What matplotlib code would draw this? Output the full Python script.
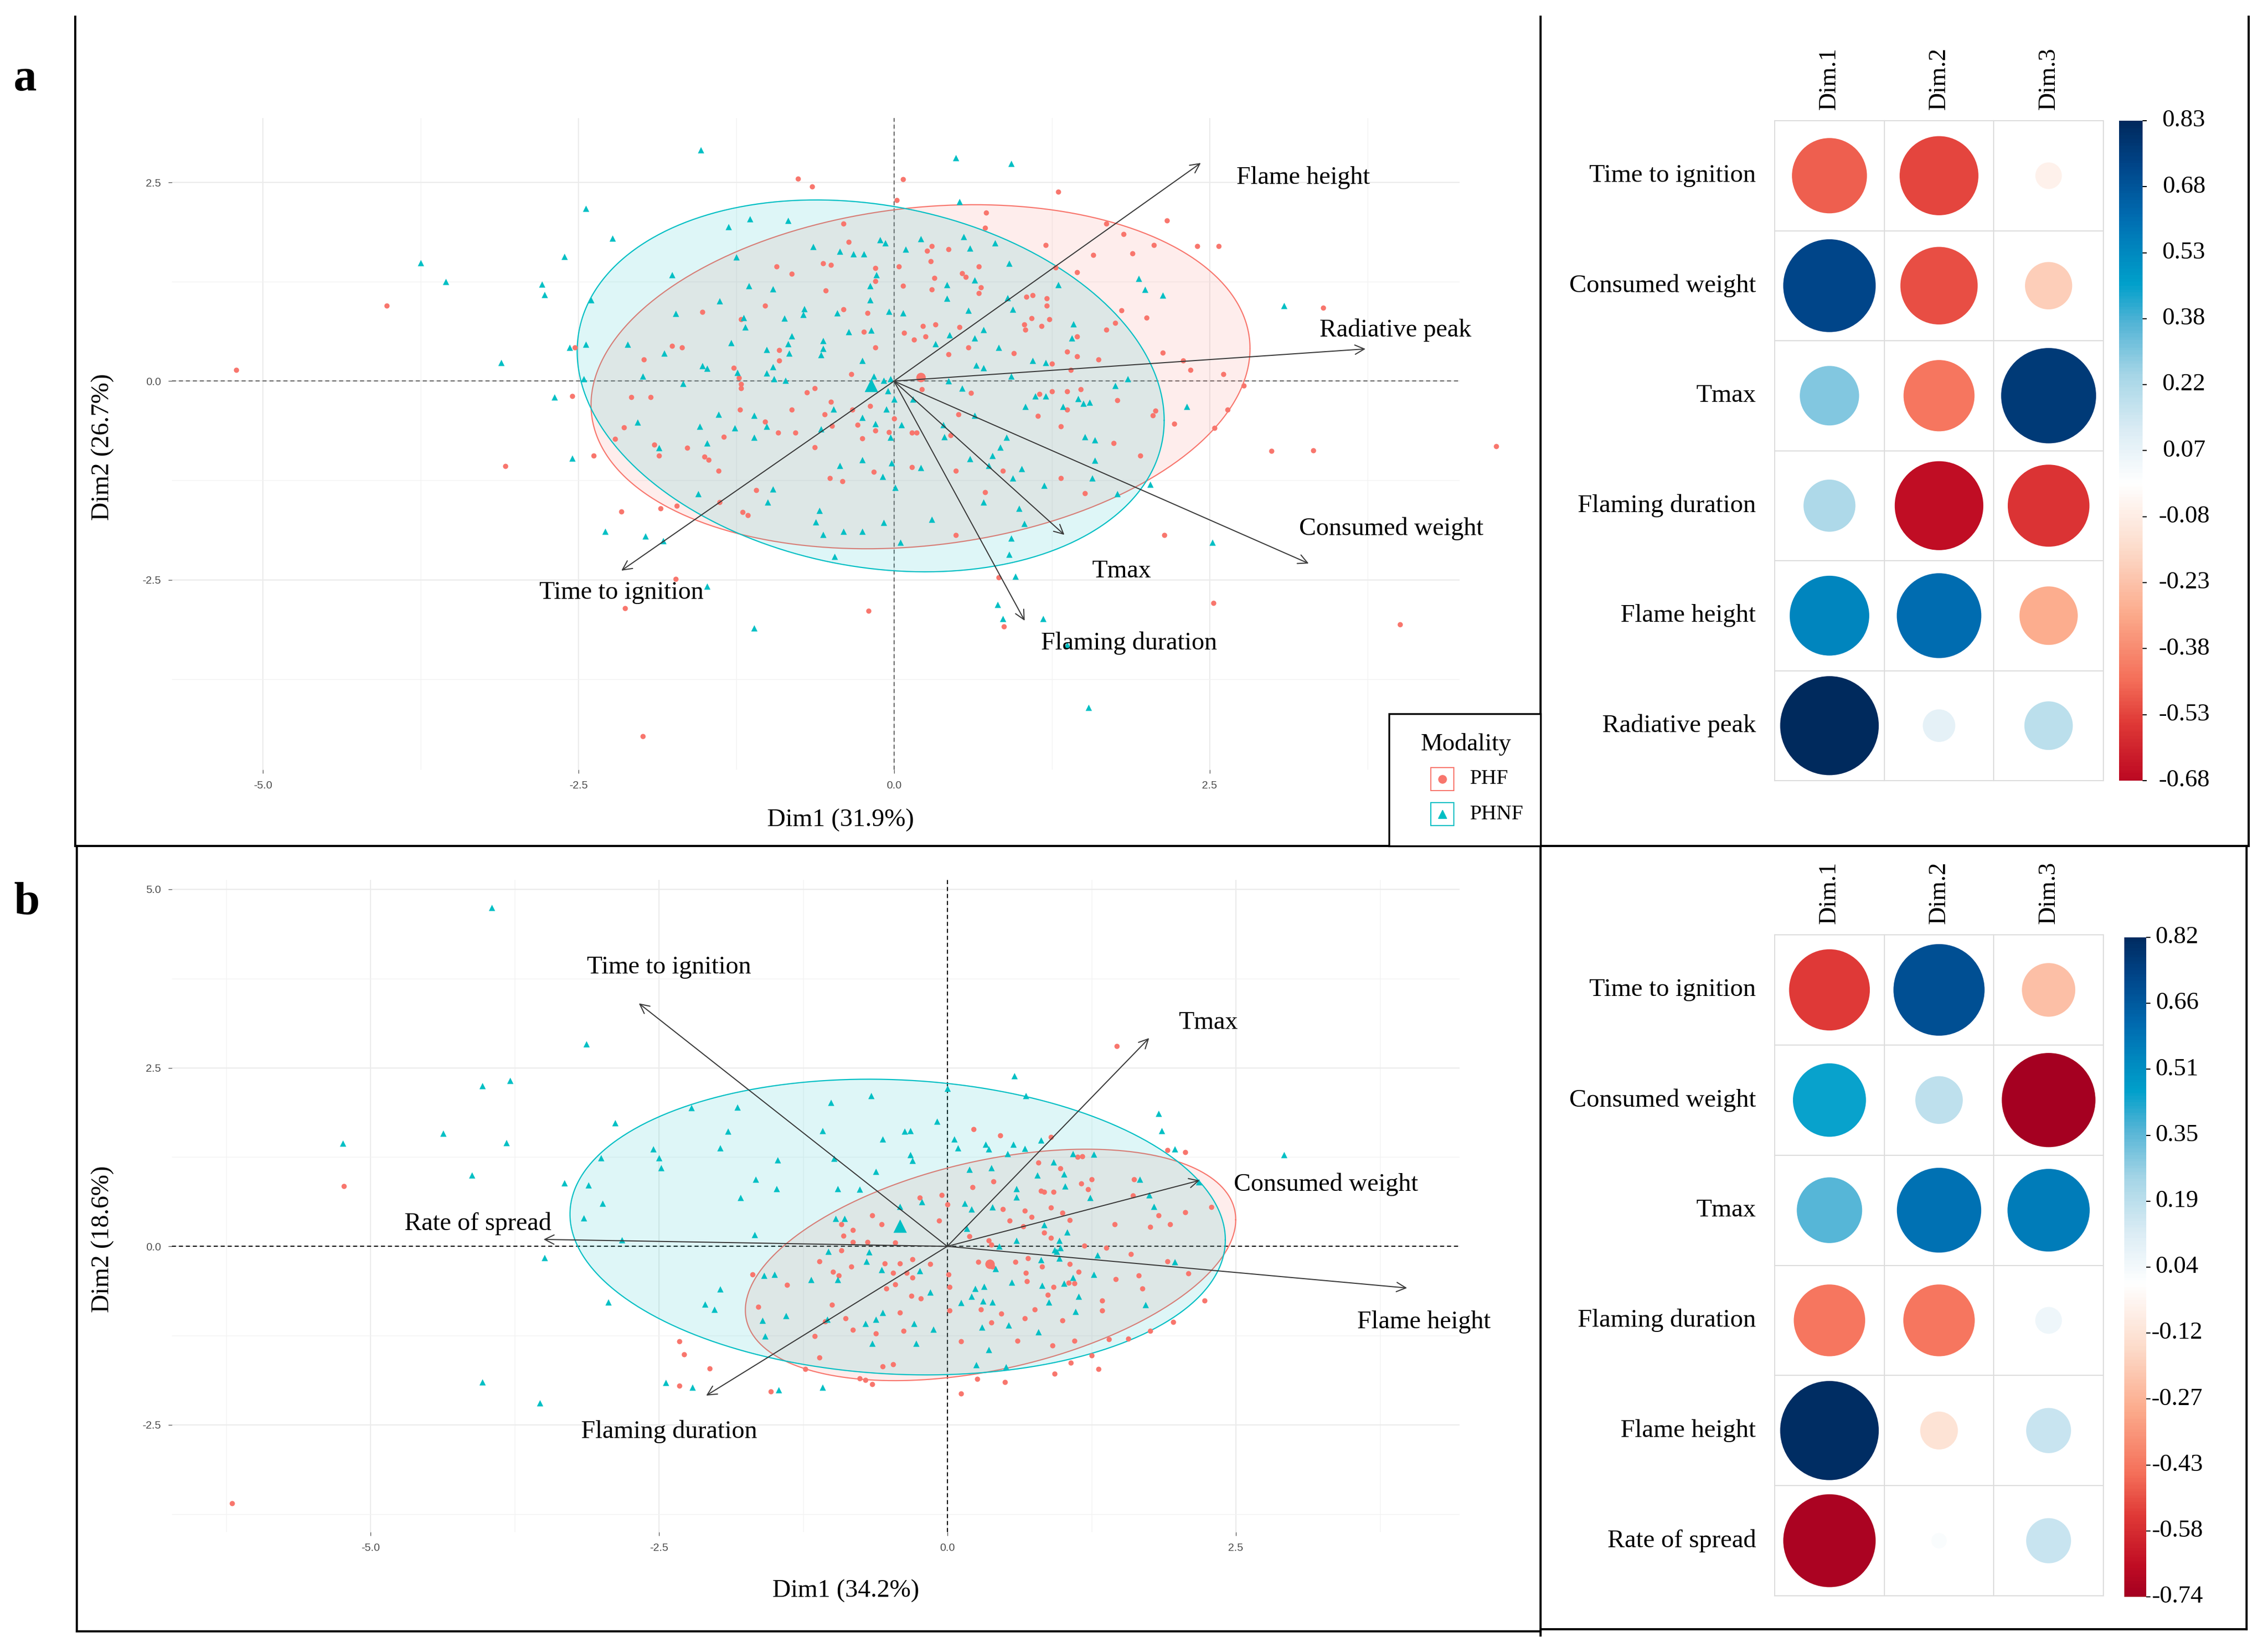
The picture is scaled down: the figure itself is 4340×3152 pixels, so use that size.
import numpy as np
import matplotlib
matplotlib.use("Agg")
import matplotlib.pyplot as plt
from matplotlib.colors import LinearSegmentedColormap
from matplotlib.lines import Line2D
from matplotlib.patches import Circle, Rectangle
from matplotlib.transforms import blended_transform_factory

plt.rcParams['font.family'] = ['Liberation Serif', 'DejaVu Serif']

# ---------------- data ----------------
dims = ["Dim.1", "Dim.2", "Dim.3"]

vars_a = ["Time to ignition", "Consumed weight", "Tmax",
          "Flaming duration", "Flame height", "Radiative peak"]
load_a = np.array([[-0.48, -0.53, -0.06],
                   [0.73, -0.51, -0.19],
                   [0.30, -0.43, 0.77],
                   [0.23, -0.67, -0.57],
                   [0.54, 0.61, -0.29],
                   [0.83, 0.09, 0.20]])
cbar_a = ["0.83", "0.68", "0.53", "0.38", "0.22", "0.07",
          "-0.08", "-0.23", "-0.38", "-0.53", "-0.68"]
pct_a = (31.9, 26.7)

vars_b = ["Time to ignition", "Consumed weight", "Tmax",
          "Flaming duration", "Flame height", "Rate of spread"]
load_b = np.array([[-0.55, 0.70, -0.24],
                   [0.45, 0.19, -0.74],
                   [0.36, 0.60, 0.57],
                   [-0.43, -0.43, 0.06],
                   [0.82, -0.12, 0.17],
                   [-0.72, 0.02, 0.17]])
cbar_b = ["0.82", "0.66", "0.51", "0.35", "0.19", "0.04",
          "-0.12", "-0.27", "-0.43", "-0.58", "-0.74"]
pct_b = (34.2, 18.6)

groups = ["PHF", "PHNF"]

# individuals, panel a
a_phf = np.array([
    (-5.21, 0.14), (-4.02, 0.95), (-3.08, -1.07), (-2.55, -0.19), (-2.53, 0.42), (-2.38, -0.94),
    (-2.16, -1.64), (-2.13, -2.86), (-1.99, -4.47), (-1.85, -1.60), (-1.72, -1.57), (-1.73, -2.49),
    (-0.20, -2.89), (-0.76, 2.55), (-0.65, 2.45), (-0.40, 1.98), (-0.36, 1.75), (-0.56, 1.48),
    (-0.50, 1.46), (-0.93, 1.44), (-0.81, 1.35), (-0.54, 1.14), (-0.40, 0.90), (-0.15, 1.42),
    (-0.15, 1.26), (-0.21, 0.86), (-0.24, 0.62), (-0.15, 0.42), (-1.02, 0.95), (-1.52, 0.87),
    (-1.21, 0.78), (-0.91, 0.39), (-0.91, 0.26), (-1.76, 0.44), (-1.68, 0.42), (-1.98, 0.27),
    (-2.08, -0.20), (-1.93, -0.20), (-1.27, 0.17), (-1.23, 0.04), (-1.21, -0.04), (-1.21, -0.09),
    (-0.34, 0.09), (-0.63, -0.09), (-0.69, -0.14), (-0.50, -0.26), (-0.55, -0.42), (-0.33, -0.36),
    (-0.49, -0.56), (-0.29, -0.55), (-0.19, -0.31), (-1.22, -0.36), (-0.81, -0.36), (-1.02, -0.51),
    (-0.92, -0.65), (-0.78, -0.65), (-0.63, -0.83), (-1.35, -0.70), (-2.14, -0.58), (-2.21, -0.73),
    (-1.90, -0.80), (-1.86, -0.94), (-1.64, -0.84), (-1.50, -0.95), (-1.47, -0.99), (-1.39, -1.13),
    (-1.38, -1.52), (-1.09, -1.37), (-1.20, -1.65), (-1.16, -1.69), (-0.25, -0.72), (-0.15, -0.62),
    (-0.51, -1.22), (-0.41, -1.26), (-0.16, -1.14), (-0.04, -0.64),
    (0.07, 2.54), (0.02, 2.28), (1.30, 2.38), (0.73, 2.12), (0.72, 1.93), (1.68, 1.98),
    (2.16, 2.02), (1.82, 1.85), (2.40, 1.70), (2.57, 1.70), (2.06, 1.71), (1.89, 1.61),
    (1.58, 1.59), (1.20, 1.71), (0.30, 1.70), (0.26, 1.64), (0.43, 1.66), (0.29, 1.51),
    (0.04, 1.44), (0.67, 1.44), (0.54, 1.36), (0.57, 1.31), (0.32, 1.30), (1.28, 1.43),
    (1.45, 1.37), (0.07, 1.20), (0.30, 1.15), (0.69, 1.18), (0.67, 1.11), (1.05, 1.06),
    (1.10, 1.08), (1.21, 1.04), (1.21, 0.95), (1.80, 0.89), (2.00, 0.80), (3.40, 0.92),
    (1.09, 0.79), (1.23, 0.78), (1.03, 0.71), (1.04, 0.65), (1.17, 0.69), (1.68, 0.65),
    (1.75, 0.73), (1.45, 0.56), (0.23, 0.69), (0.33, 0.71), (0.16, 0.52), (0.25, 0.56),
    (0.08, 0.61), (0.52, 0.68), (0.59, 0.42), (0.43, 0.34), (0.95, 0.35), (1.37, 0.37),
    (1.45, 0.31), (1.62, 0.27), (2.13, 0.36), (2.29, 0.26), (2.35, 0.14), (2.61, 0.09),
    (2.77, -0.06), (1.40, 0.14), (1.25, 0.22), (0.22, -0.10), (0.61, -0.15), (1.15, -0.16),
    (1.25, -0.13), (1.37, -0.13), (1.48, -0.10), (1.77, -0.24), (1.14, -0.44), (1.37, -0.36),
    (0.51, -0.42), (1.32, -0.57), (2.07, -0.37), (2.05, -0.43), (2.22, -0.54), (2.64, -0.36),
    (2.54, -0.59), (1.74, -0.78), (1.95, -0.94), (2.99, -0.88), (3.32, -0.87), (4.77, -0.82),
    (0.00, -0.47), (0.14, -0.65), (0.18, -0.65), (0.45, -0.68), (0.14, -1.08), (0.49, -1.13),
    (0.86, -1.13), (1.32, -1.22), (1.51, -1.41), (0.72, -1.40), (0.49, -1.94), (2.14, -1.94),
    (0.83, -2.47), (2.53, -2.79), (4.01, -3.06), (0.87, -3.09)])

a_phnf = np.array([
    (-1.53, 2.91), (-2.44, 2.17), (-2.23, 1.80), (-3.75, 1.49), (-3.55, 1.25), (-2.61, 1.57),
    (-2.79, 1.22), (-2.77, 1.09), (-2.40, 1.02), (-3.11, 0.23), (-2.69, -0.20), (-2.57, 0.42),
    (-2.44, 0.46), (-2.46, 0.03), (-2.55, -0.97), (-2.29, -1.89), (-1.97, -1.95), (-1.83, -2.01),
    (-1.48, -2.58), (-1.11, -3.11), (-0.47, -2.21), (-1.31, 1.94), (-1.14, 2.04), (-0.84, 2.02),
    (-1.25, 1.56), (-1.76, 1.34), (-0.64, 1.69), (-0.43, 1.63), (-0.32, 1.60), (-0.24, 1.60),
    (-0.11, 1.78), (-0.07, 1.74), (-0.14, 1.34), (-0.19, 1.20), (-0.19, 1.02), (-0.18, 0.64),
    (-0.04, 0.88), (-1.15, 1.20), (-0.96, 1.16), (-1.38, 1.01), (-1.73, 0.85), (-1.19, 0.80),
    (-1.18, 0.68), (-0.87, 0.79), (-0.71, 0.91), (-0.72, 0.84), (-0.45, 0.86), (-0.36, 0.62),
    (-0.81, 0.57), (-0.84, 0.47), (-1.01, 0.40), (-0.83, 0.35), (-0.56, 0.51), (-0.56, 0.41),
    (-0.58, 0.33), (-0.25, 0.26), (-0.96, 0.18), (-1.01, 0.10), (-0.95, 0.03), (-0.86, 0.01),
    (-1.29, 0.48), (-1.52, 0.19), (-1.48, 0.16), (-1.24, 0.11), (-1.67, -0.03), (-1.82, 0.35),
    (-2.11, 0.46), (-1.99, 0.06), (-2.03, -0.52), (-1.39, -0.42), (-1.54, -0.57), (-1.26, -0.59),
    (-1.11, -0.43), (-1.01, -0.57), (-1.48, -0.78), (-1.11, -0.71), (-1.86, -0.84), (-0.48, -0.35),
    (-0.58, -0.60), (-0.25, -0.46), (-0.15, -0.54), (-0.06, -0.35), (-0.16, 0.06), (-0.08, 0.01),
    (-0.03, 0.03), (-0.05, -0.12), (-0.43, -1.06), (-0.25, -0.99), (-0.09, -1.20), (-0.02, -1.03),
    (-0.96, -1.36), (-1.00, -1.52), (-1.55, -1.42), (-0.59, -1.63), (-0.62, -1.77), (-0.56, -1.93),
    (-0.40, -1.89), (-0.25, -1.89), (-0.08, -1.78),
    (0.49, 2.81), (0.93, 2.74), (0.52, 2.26), (0.21, 1.79), (0.09, 1.66), (0.55, 1.82),
    (0.60, 1.67), (0.80, 1.74), (0.91, 1.48), (0.42, 1.21), (0.42, 1.04), (0.64, 1.27),
    (0.90, 1.05), (0.94, 0.90), (0.59, 0.89), (1.30, 1.21), (0.07, 0.86), (1.94, 1.29),
    (1.99, 1.15), (2.13, 1.08), (3.09, 0.95), (1.42, 0.72), (1.41, 0.54), (0.71, 0.65),
    (0.44, 0.58), (0.33, 0.47), (0.64, 0.54), (0.83, 0.42), (0.65, 0.20), (0.71, 0.17),
    (1.10, 0.26), (1.20, 0.23), (0.93, 0.06), (0.43, 0.00), (0.54, -0.09), (1.85, 0.03),
    (1.75, -0.06), (1.12, -0.19), (1.20, -0.19), (1.04, -0.32), (1.46, -0.22), (1.50, -0.28),
    (1.55, -0.27), (1.34, -0.32), (2.32, -0.32), (0.15, -0.23), (0.00, -0.23), (0.64, -0.43),
    (0.39, -0.55), (0.40, -0.70), (0.06, -0.55), (0.89, -0.71), (0.84, -0.83), (0.78, -0.94),
    (0.60, -0.98), (0.75, -1.06), (1.01, -1.10), (0.21, -1.09), (1.51, -0.70), (1.59, -0.74),
    (1.59, -1.00), (1.57, -1.22), (1.19, -1.31), (0.94, -1.22), (0.01, -1.34), (1.77, -1.42),
    (2.03, -1.30), (0.71, -1.52), (0.99, -1.60), (0.30, -1.74), (1.03, -1.79), (0.93, -1.98),
    (0.91, -2.18), (0.05, -2.03), (2.52, -2.03), (0.96, -2.46), (0.82, -2.81), (0.86, -2.99),
    (1.18, -2.99), (1.37, -3.32), (1.54, -4.11), (-0.03, -0.71)])

# individuals, panel b
b_phf = np.array([
    (-5.23, 0.84), (-6.20, -3.60), (-2.32, -1.33), (-2.28, -1.51), (-2.06, -1.71), (-2.32, -1.95),
    (-1.53, -2.03), (-1.23, -1.72), (-1.11, -1.56), (-1.15, -1.26), (-1.64, -0.85), (-1.39, -0.54),
    (-1.69, -0.39), (-1.11, -0.21), (-0.99, -0.36), (-0.94, -0.41), (-1.00, -0.82), (-1.06, -1.05),
    (-0.88, -1.01), (-0.82, -1.17), (-0.92, -0.06), (-0.90, 0.15), (-0.92, 0.31), (-0.82, 0.23),
    (-0.83, -0.28), (-0.82, 0.06), (-0.76, -1.85),
    (1.47, 2.80), (0.23, 1.64), (0.46, 1.55), (0.90, 1.53), (1.13, 1.25), (1.17, 1.26),
    (1.91, 1.35), (2.06, 1.32), (0.79, 1.17), (0.98, 1.09), (0.40, 0.91), (0.22, 0.83),
    (0.81, 0.78), (0.84, 0.76), (0.92, 0.76), (1.25, 0.94), (1.16, 0.88), (1.22, 0.80),
    (1.62, 0.94), (1.61, 0.71), (-0.05, 0.72), (0.00, 0.59), (-0.24, 0.68), (0.48, 0.52),
    (0.67, 0.50), (0.73, 0.41), (0.90, 0.54), (1.00, 0.47), (1.06, 0.37), (0.54, 0.36),
    (0.66, 0.28), (0.84, 0.19), (0.90, 0.12), (1.45, 0.31), (1.76, 0.27), (1.83, 0.43),
    (1.93, 0.31), (2.06, 0.48), (2.29, 0.55), (-0.57, 0.31), (-0.65, 0.43), (-0.07, 0.36),
    (0.36, 0.08), (0.38, 0.02), (0.19, 0.14), (-0.45, 0.05), (-0.69, 0.06), (-0.30, -0.18),
    (-0.15, -0.25), (-0.41, -0.24), (-0.54, -0.24), (0.27, -0.22), (0.39, -0.28), (0.59, -0.22),
    (0.70, -0.17), (0.82, -0.28), (1.06, -0.25), (1.10, -0.52), (1.14, -0.36), (0.68, -0.37),
    (0.01, -0.39), (1.46, -0.46), (1.66, -0.41), (1.69, -0.59), (1.91, -0.21), (2.09, -0.38),
    (1.38, -0.02), (1.59, -0.11), (1.19, 0.01), (-0.47, -0.37), (-0.35, -0.37), (-0.30, -0.44),
    (-0.53, -0.59), (-0.45, -0.53), (-0.31, -0.69), (-0.23, -0.73), (0.02, -0.57), (0.69, -0.49),
    (0.92, -0.57), (1.05, -0.51), (0.87, -0.68), (1.34, -0.76), (1.34, -0.90), (2.23, -0.76),
    (0.02, -0.90), (0.29, -0.88), (0.76, -0.88), (0.47, -0.94), (0.38, -1.07), (0.67, -1.01),
    (1.00, -1.04), (-0.41, -0.93), (-0.38, -1.18), (-0.62, -1.22), (0.12, -1.33), (0.61, -1.32),
    (0.91, -1.39), (1.10, -1.32), (1.40, -1.30), (1.57, -1.29), (1.76, -1.18), (1.96, -1.06),
    (1.25, -1.53), (1.07, -1.63), (1.31, -1.72), (0.93, -1.78), (-0.47, -1.65), (-0.56, -1.68),
    (0.26, -1.86), (0.50, -1.90), (0.12, -2.06), (-0.65, -1.93), (-0.71, -1.87)])

b_phnf = np.array([
    (-3.95, 4.74), (-3.13, 2.83), (-3.79, 2.32), (-4.03, 2.25), (-4.37, 1.58), (-3.82, 1.45),
    (-5.24, 1.44), (-4.12, 1.00), (-2.88, 1.73), (-3.00, 1.24), (-3.11, 0.86), (-3.32, 0.89),
    (-2.99, 0.60), (-3.15, 0.40), (-2.82, 0.09), (-3.49, -0.16), (-2.94, -0.78), (-4.03, -1.90),
    (-3.53, -2.19), (-2.22, 1.94), (-1.82, 1.95), (-1.90, 1.61), (-1.97, 1.38), (-2.55, 1.36),
    (-2.50, 1.24), (-2.48, 1.10), (-1.01, 2.01), (-1.08, 1.62), (-1.47, 1.21), (-0.98, 1.23),
    (-1.66, 0.94), (-1.48, 0.81), (-0.95, 0.81), (-1.79, 0.68), (-1.67, 0.16), (-0.97, 0.39),
    (-0.89, 0.39), (-1.03, -0.07), (-1.59, -0.41), (-1.50, -0.39), (-1.18, -0.47), (-0.95, -0.47),
    (-1.97, -0.60), (-2.10, -0.81), (-2.02, -0.88), (-1.60, -1.04), (-1.40, -0.97), (-1.04, -1.02),
    (-1.58, -1.26), (-2.44, -1.91), (-2.21, -1.97), (-1.46, -2.01), (-1.08, -1.97), (-0.76, 0.80),
    (0.58, 2.39), (0.68, 2.11), (0.00, 2.21), (-0.66, 2.11), (-0.09, 1.75), (-0.37, 1.61),
    (-0.32, 1.62), (-0.56, 1.50), (-0.32, 1.28), (-0.30, 1.20), (-0.62, 1.05), (0.06, 1.50),
    (0.09, 1.38), (0.33, 1.43), (0.36, 1.36), (0.57, 1.43), (0.67, 1.37), (0.81, 1.49),
    (0.52, 1.30), (0.19, 1.08), (0.38, 1.10), (0.78, 1.00), (0.92, 1.18), (1.01, 1.01),
    (1.09, 1.30), (1.27, 1.29), (1.83, 1.86), (1.86, 1.62), (1.97, 1.36), (2.92, 1.28),
    (2.18, 0.90), (1.67, 0.94), (1.75, 0.72), (1.79, 0.56), (1.24, 0.68), (1.02, 0.84),
    (0.60, 0.81), (0.60, 0.69), (0.15, 0.60), (0.21, 0.52), (0.39, 0.55), (-0.41, 0.56),
    (-0.22, 0.62), (0.17, 0.25), (0.60, 0.08), (0.84, 0.30), (0.97, 0.08), (0.93, -0.05),
    (0.98, -0.02), (0.95, -0.07), (0.45, 0.00), (1.30, -0.12), (0.81, -0.19), (0.97, -0.17),
    (1.04, 0.20), (1.97, -0.22), (1.27, -0.39), (-0.68, -0.08), (-0.70, -0.21), (-0.57, -0.33),
    (-0.24, -0.34), (0.42, -0.31), (1.09, -0.44), (0.56, -0.50), (0.82, -0.55), (1.01, -0.52),
    (-0.15, -0.64), (0.24, -0.59), (0.32, -0.56), (0.21, -0.70), (0.12, -0.79), (0.31, -0.77),
    (0.39, -0.78), (0.88, -0.78), (1.14, -0.70), (1.11, -0.91), (1.72, -0.82), (-0.56, -0.93),
    (-0.62, -1.02), (-0.71, -1.08), (-0.29, -1.08), (-0.12, -1.16), (0.53, -1.10), (0.30, -1.13),
    (0.79, -1.20), (-0.27, -1.36), (-0.65, -1.36), (0.36, -1.45), (0.25, -1.66), (0.51, -1.69)])

# group means
a_means = {"PHF": (0.21, 0.05), "PHNF": (-0.18, -0.05)}
b_means = {"PHF": (0.37, -0.25), "PHNF": (-0.41, 0.29)}

# concentration ellipses: centre x, centre y, half-width, half-height, phase (deg)
a_ell = {"PHF": (0.21, 0.055, 2.61, 2.165, 80.6), "PHNF": (-0.185, -0.06, 2.325, 2.34, 100.7)}
b_ell = {"PHF": (0.375, -0.26, 2.125, 1.62, 67.0), "PHNF": (-0.43, 0.27, 2.84, 2.07, 95.0)}

# ---------------- styling / layout ----------------
W, H = 4340, 3152
RED, CYAN = "#F8766D", "#00BFC4"
col = {"PHF": RED, "PHNF": CYAN}
mk = {"PHF": "o", "PHNF": "^"}

corr_cmap = LinearSegmentedColormap.from_list("corr", [
    (0.000, "#67001F"), (0.130, "#A50021"), (0.165, "#C00D24"), (0.225, "#E03A37"),
    (0.275, "#F5705A"), (0.350, "#FCAB8C"), (0.425, "#FDDCCB"), (0.500, "#FFFFFF"),
    (0.560, "#DCEDF5"), (0.625, "#A6D6E7"), (0.685, "#52B4D6"), (0.730, "#00A0CB"),
    (0.775, "#0083BD"), (0.810, "#006AAF"), (0.865, "#00468A"), (0.915, "#002A5E"),
    (1.000, "#001B40")])

fig = plt.figure(figsize=(W / 100, H / 100), dpi=100)


def fx(px):
    return px / W


def fy(py):
    return 1 - py / H


def rect(x0, y0, x1, y1):
    return [fx(x0), fy(y1), (x1 - x0) / W, (y1 - y0) / H]


def biplot(r, xlim, ylim, ymajor, phf, phnf, means, ell, names, load, scale, lab_pos, zero_col):
    ax = fig.add_axes(r)
    for s in ax.spines.values():
        s.set_visible(False)
    xmaj = [-5.0, -2.5, 0.0, 2.5]
    ax.set_xticks(xmaj)
    ax.set_xticklabels(["%.1f" % v for v in xmaj])
    ax.set_xticks(np.arange(-6.25, 5, 2.5), minor=True)
    ax.set_yticks(ymajor)
    ax.set_yticklabels(["%.1f" % v for v in ymajor])
    ax.set_yticks(np.arange(-6.25, 6, 2.5), minor=True)
    # limits after the ticks, set_ticks would widen them otherwise
    ax.set_xlim(*xlim)
    ax.set_ylim(*ylim)
    ax.grid(which="major", color="#EBEBEB", lw=1.6)
    ax.grid(which="minor", color="#F2F2F2", lw=1.0)
    ax.set_axisbelow(True)
    ax.tick_params(which="major", length=5, width=1, color="#555555",
                   labelsize=15, labelcolor="#4D4D4D", pad=10)
    ax.tick_params(which="minor", length=0)
    for lab in ax.get_xticklabels() + ax.get_yticklabels():
        lab.set_fontfamily(["Liberation Sans", "DejaVu Sans"])

    ax.axhline(0, ls=(0, (3.5, 2.5)), color=zero_col, lw=1.6, zorder=1)
    ax.axvline(0, ls=(0, (3.5, 2.5)), color=zero_col, lw=1.6, zorder=1)

    t = np.linspace(0, 2 * np.pi, 400)
    for g in groups:
        cx, cy, a, b, ph = ell[g]
        ex = cx + a * np.cos(t)
        ey = cy + b * np.cos(t - np.radians(ph))
        ax.fill(ex, ey, color=col[g], alpha=0.13, lw=0, zorder=2)
        ax.plot(ex, ey, color=col[g], lw=1.6, zorder=2)

    ax.scatter(phf[:, 0], phf[:, 1], s=52, marker="o", color=RED, lw=0, zorder=3, clip_on=False)
    ax.scatter(phnf[:, 0], phnf[:, 1], s=75, marker="^", color=CYAN, lw=0, zorder=3, clip_on=False)
    ax.scatter([means["PHF"][0]], [means["PHF"][1]], s=170, marker="o", color=RED, lw=0, zorder=3)
    ax.scatter([means["PHNF"][0]], [means["PHNF"][1]], s=340, marker="^", color=CYAN, lw=0, zorder=3)

    for i, nm in enumerate(names):
        ax.annotate("", xy=(load[i, 0] * scale, load[i, 1] * scale), xytext=(0, 0),
                    arrowprops=dict(arrowstyle="->", color="#3A3A3A", lw=1.5,
                                    mutation_scale=32, shrinkA=0, shrinkB=0),
                    zorder=4)
        ax.text(lab_pos[nm][0], lab_pos[nm][1], nm, ha="center", va="center",
                fontsize=35, color="black", zorder=5)
    return ax


def corrplot(r, cb_r, cb_text_x, load, names, cb_labels):
    ax = fig.add_axes(r)
    ax.set_xlim(0, 3)
    ax.set_ylim(6, 0)
    ax.axis("off")
    vmax = np.abs(load).max()
    for i in range(load.shape[0]):
        for j in range(load.shape[1]):
            v = load[i, j]
            ax.add_patch(Circle((j + 0.5, i + 0.5), 0.45 * np.sqrt(abs(v) / vmax),
                                color=corr_cmap((v + 1) / 2), lw=0))
    for k in range(4):
        ax.plot([k, k], [0, 6], color="#DCDCDC", lw=1.5, clip_on=False)
    for k in range(7):
        ax.plot([0, 3], [k, k], color="#DCDCDC", lw=1.5, clip_on=False)
    for i, nm in enumerate(names):
        ax.text(-0.17, i + 0.5, nm, ha="right", va="center", fontsize=35.5)
    for j, d in enumerate(dims):
        ax.text(j + 0.5, -0.1, d, ha="center", va="bottom", rotation=90, fontsize=34)

    cax = fig.add_axes(cb_r)
    hi, lo = float(cb_labels[0]), float(cb_labels[-1])
    grad = np.linspace(hi, lo, 500)[:, None]
    cax.imshow(grad, aspect="auto", cmap=corr_cmap, vmin=-1, vmax=1, extent=[0, 1, lo, hi])
    for s in cax.spines.values():
        s.set_visible(False)
    cax.set_xticks([])
    ticks = np.linspace(hi, lo, len(cb_labels))
    cax.yaxis.tick_right()
    cax.set_yticks(ticks)
    cax.set_yticklabels([])
    cax.set_xlim(0, 1)
    cax.set_ylim(lo, hi)
    cax.tick_params(axis="y", length=6, width=1.5, color="black")
    tr = blended_transform_factory(fig.transFigure, cax.transData)
    for v, lab in zip(ticks, cb_labels):
        cax.text(fx(cb_text_x), v, lab, transform=tr, ha="center", va="center", fontsize=34)


# ---------------- panel a ----------------
lab_a = {"Flame height": (3.24, 2.56), "Radiative peak": (3.97, 0.64),
         "Consumed weight": (3.94, -1.86), "Tmax": (1.80, -2.39),
         "Flaming duration": (1.86, -3.30), "Time to ignition": (-2.16, -2.66)}
biplot(rect(329, 226, 2793, 1473), (-5.72, 4.48), (-4.89, 3.31), [-2.5, 0.0, 2.5],
       a_phf, a_phnf, a_means, a_ell, vars_a, load_a, 4.5, lab_a, "#6A6A6A")
fig.text(fx(1608), fy(1570), "Dim1 (%.1f%%)" % pct_a[0], ha="center", va="center", fontsize=35)
fig.text(fx(197), fy(855), "Dim2 (%.1f%%)" % pct_a[1], ha="center", va="center",
         rotation=90, fontsize=35)
corrplot(rect(3396, 231, 4025, 1494), rect(4055, 231, 4100, 1494), 4179, load_a, vars_a, cbar_a)

# ---------------- panel b ----------------
lab_b = {"Time to ignition": (-2.41, 3.91), "Tmax": (2.26, 3.13),
         "Consumed weight": (3.28, 0.87), "Rate of spread": (-4.07, 0.32),
         "Flame height": (4.13, -1.06), "Flaming duration": (-2.41, -2.59)}
biplot(rect(329, 1684, 2793, 2932), (-6.72, 4.44), (-4.00, 5.13), [-2.5, 0.0, 2.5, 5.0],
       b_phf, b_phnf, b_means, b_ell, vars_b, load_b, 4.86, lab_b, "#111111")
fig.text(fx(1618), fy(3045), "Dim1 (%.1f%%)" % pct_b[0], ha="center", va="center", fontsize=35)
fig.text(fx(197), fy(2372), "Dim2 (%.1f%%)" % pct_b[1], ha="center", va="center",
         rotation=90, fontsize=35)
corrplot(rect(3396, 1789, 4025, 3054), rect(4065, 1794, 4107, 3056), 4166, load_b, vars_b, cbar_b)

# ---------------- legend of panel a ----------------
fig.add_artist(Rectangle((fx(2658), fy(1619)), (2948 - 2658) / W, (1619 - 1366) / H,
                         transform=fig.transFigure, facecolor="white", edgecolor="black",
                         lw=2.5, zorder=10))
fig.text(fx(2805), fy(1425), "Modality", ha="center", va="center", fontsize=34, zorder=11)
for g, yy in zip(groups, (1491, 1558)):
    fig.add_artist(Rectangle((fx(2760 - 22), fy(yy + 22)), 44 / W, 44 / H,
                             transform=fig.transFigure, facecolor="white",
                             edgecolor=col[g], lw=1.5, zorder=11))
    fig.add_artist(Line2D([fx(2760)], [fy(yy)], marker=mk[g], ms=11, color=col[g], lw=0,
                          transform=fig.transFigure, zorder=12))
    fig.text(fx(2813), fy(yy), g, ha="left", va="center", fontsize=29, zorder=12)

# ---------------- frame lines and panel letters ----------------
frame = [((144, 32), (144, 1619)), ((144, 1619), (4303, 1619)), ((2948, 32), (2948, 3130)),
         ((4303, 32), (4303, 1619)), ((147, 1619), (147, 3122)), ((147, 3122), (2948, 3122)),
         ((2948, 3118), (4299, 3118)), ((4299, 1619), (4299, 3118))]
for (x0, y0), (x1, y1) in frame:
    fig.add_artist(Line2D([fx(x0), fx(x1)], [fy(y0), fy(y1)], color="black", lw=3,
                          transform=fig.transFigure, zorder=9))

fig.text(fx(47), fy(152), "a", ha="center", va="center", fontsize=64, fontweight="bold")
fig.text(fx(52), fy(1728), "b", ha="center", va="center", fontsize=64, fontweight="bold")

fig.savefig("out.png", dpi=100, facecolor="white")
